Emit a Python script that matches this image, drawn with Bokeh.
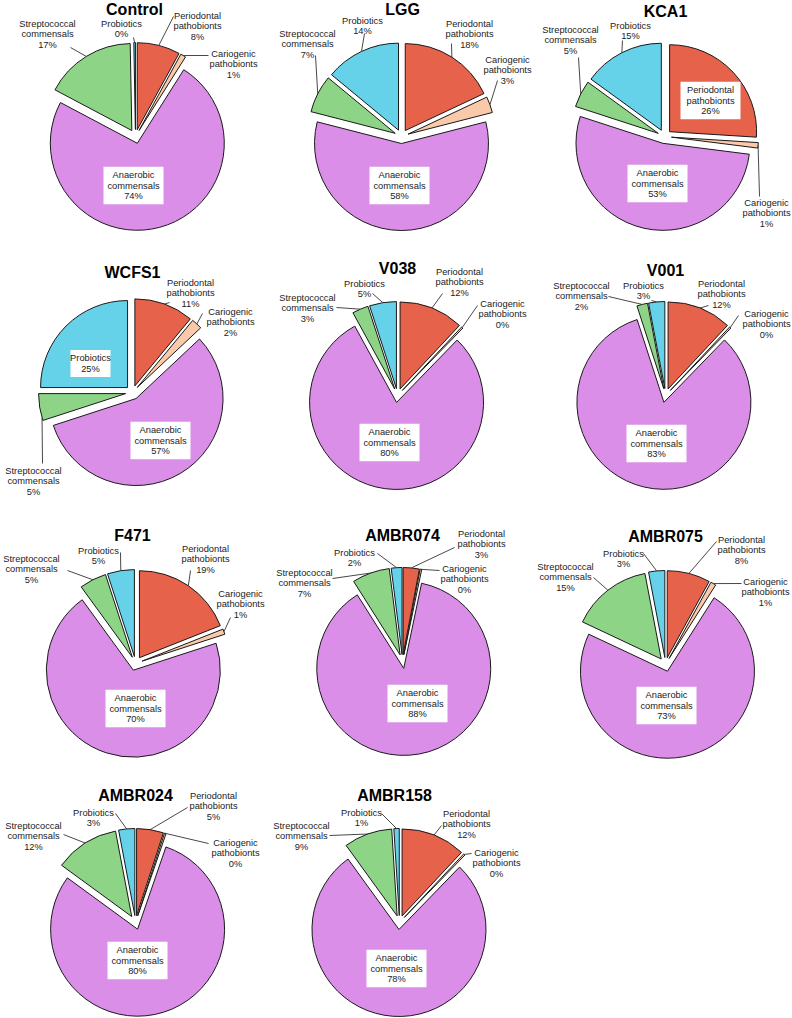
import math
from bokeh.plotting import figure
from bokeh.models import Range1d, ColumnDataSource
from bokeh.core.properties import value
from bokeh.embed import file_html
from bokeh.resources import INLINE

# ---------------- data ----------------
CHARTS = ["Control", "LGG", "KCA1", "WCFS1", "V038", "V001",
          "F471", "AMBR074", "AMBR075", "AMBR024", "AMBR158"]
CATEGORIES = ["Periodontal pathobionts", "Cariogenic pathobionts",
              "Anaerobic commensals", "Streptococcal commensals", "Probiotics"]
PERIODONTAL = [8, 18, 26, 11, 12, 12, 19, 3, 8, 5, 12]
CARIOGENIC = [1, 3, 1, 2, 0.3, 0.3, 1, 0.3, 1, 0.3, 0.3]
ANAEROBIC = [74, 58, 53, 57, 80, 83, 70, 88, 73, 80, 78]
STREPTOCOCCAL = [17, 7, 5, 5, 3, 2, 5, 7, 15, 12, 9]
PROBIOTICS = [0.3, 14, 15, 25, 5, 3, 5, 2, 3, 3, 1]

# ---------------- styles ----------------
COLORS = ["#E6624A", "#F9C9A9", "#DB8EE8", "#8ED487", "#65D2EA"]
LABEL_LINES = [["Periodontal", "pathobionts"], ["Cariogenic", "pathobionts"],
               ["Anaerobic", "commensals"], ["Streptococcal", "commensals"],
               ["Probiotics"]]
R = 87       # pie radius (px)
D = 7        # explosion offset (px)
LH = 10.5    # label line height
FONT = "Liberation Sans"

# ---------------- layout (reference pixel coordinates) ----------------
CENTERS = [(135, 136), (401, 136), (664, 136), (132, 392), (397, 395), (665, 395),
           (135, 663), (402, 661), (665, 664), (135, 922), (399, 922)]
TITLES = [(134, 9), (402, 9), (665, 11), (132, 272), (397, 268), (665, 270),
          (132, 535), (402, 535), (665, 536), (135, 795), (394, 795)]
# per chart: per category -> ("out", text_x, first_line_y, attach_x, attach_y, frac) or ("box", cx, cy)
LABELS = [
    [("out", 197, 15, 173, 16, .5), ("out", 233, 53, 208, 55, .5), ("box", 133, 185),
     ("out", 47, 23, 70, 47, .5), ("out", 121, 23, 133, 37, .5)],
    [("out", 469, 23, 451, 43, .5), ("out", 507, 59, 497, 80, .5), ("box", 399, 185),
     ("out", 307, 33, 315, 55, .5), ("out", 362, 20, 364, 33, .5)],
    [("box", 710, 100), ("out", 766, 202, 759, 196, .5), ("box", 657, 183),
     ("out", 570, 29, 578, 57, .5), ("out", 630, 25, 622, 40, .5)],
    [("out", 190, 282, 169, 302, .5), ("out", 230, 311, 202, 313, .5), ("box", 160, 440),
     ("out", 33, 470, 42, 463, .1), ("box", 90, 363)],
    [("out", 459, 271, 442, 293, .5), ("out", 502, 303, 477, 305, .5), ("box", 389, 442),
     ("out", 307, 297, 336, 307, .5), ("out", 364, 283, 372, 293, .5)],
    [("out", 721, 283, 708, 305, .5), ("out", 766, 313, 738, 315, .5), ("box", 656, 443),
     ("out", 581, 285, 608, 296, .5), ("out", 643, 285, 651, 300, .5)],
    [("out", 205, 548, 190, 570, .5), ("out", 240, 593, 230, 617, .5), ("box", 135, 708),
     ("out", 31, 558, 67, 570, .5), ("out", 98, 550, 120, 552, .5)],
    [("out", 481, 533, 454, 547, .5), ("out", 464, 568, 439, 570, .5), ("box", 417, 703),
     ("out", 304, 572, 332, 578, .5), ("out", 354, 552, 377, 553, .5)],
    [("out", 741, 539, 716, 541, .5), ("out", 765, 581, 741, 583, .5), ("box", 666, 705),
     ("out", 565, 566, 593, 577, .5), ("out", 623, 553, 643, 553, .5)],
    [("out", 213, 795, 187, 807, .5), ("out", 235, 842, 208, 843, .5), ("box", 137, 960),
     ("out", 33, 825, 63, 834, .5), ("out", 93, 812, 115, 813, .5)],
    [("out", 466, 813, 441, 825, .5), ("out", 496, 852, 471, 853, .5), ("box", 396, 968),
     ("out", 301, 825, 329, 835, .5), ("out", 361, 812, 381, 813, .5)],
]

W, H = 792, 1018
p = figure(width=W, height=H, x_range=Range1d(0, W), y_range=Range1d(-H, 0),
           output_backend="svg", toolbar_location=None, min_border=0)
p.axis.visible = False
p.grid.visible = False
p.outline_line_color = None
p.background_fill_color = "white"
p.border_fill_color = "white"

wx, wy, ws, we, wc = [], [], [], [], []
lxs, lys = [], []
bx, by, bw, bh = [], [], [], []
tx, ty, tt = [], [], []

series = [PERIODONTAL, CARIOGENIC, ANAEROBIC, STREPTOCOCCAL, PROBIOTICS]
for i, name in enumerate(CHARTS):
    vals = [s[i] for s in series]
    total = sum(vals)
    cx, cy = CENTERS[i]
    cum = 0.0
    for k, v in enumerate(vals):
        a = cum / total
        b = (cum + v) / total
        cum += v
        mid = 2 * math.pi * (a + b) / 2
        ex = cx + D * math.sin(mid)
        ey = cy - D * math.cos(mid)
        wx.append(ex); wy.append(-ey)
        ws.append(math.pi / 2 - 2 * math.pi * a)
        we.append(math.pi / 2 - 2 * math.pi * b)
        wc.append(COLORS[k])
        lines = LABEL_LINES[k] + [f"{round(v / total * 100)}%"]
        spec = LABELS[i][k]
        if spec[0] == "box":
            _, bcx, bcy = spec
            n = len(lines)
            bx.append(bcx); by.append(-bcy)
            bw.append(60 if n == 3 else 40); bh.append(n * LH + 6)
            y0 = bcy - (n - 1) / 2 * LH
        else:
            _, lx, y0, ax, ay, f = spec
            bcx = lx
            th = 2 * math.pi * (a + f * (b - a))
            exx = ex + R * math.sin(th)
            eyy = ey - R * math.cos(th)
            lxs.append([ax, exx]); lys.append([-ay, -eyy])
        for j, s in enumerate(lines):
            tx.append(bcx); ty.append(-(y0 + j * LH)); tt.append(s)

p.wedge(x="x", y="y", radius=R, start_angle="s", end_angle="e", direction="clock",
        fill_color="c", line_color="#1a1a1a", line_width=1,
        source=ColumnDataSource(dict(x=wx, y=wy, s=ws, e=we, c=wc)))
p.multi_line(xs=lxs, ys=lys, line_color="#333333", line_width=0.9)
p.rect(x=bx, y=by, width=bw, height=bh, fill_color="white", line_color=None)
p.text(x=tx, y=ty, text=tt, text_font=value(FONT), text_font_size="9.3px",
       text_align="center", text_baseline="middle", text_color="#222222")
p.text(x=[t[0] for t in TITLES], y=[-t[1] for t in TITLES], text=CHARTS,
       text_font=value(FONT), text_font_size="16px", text_font_style="bold",
       text_align="center", text_baseline="middle", text_color="black")

open("out.html", "w").write(file_html(p, INLINE))
